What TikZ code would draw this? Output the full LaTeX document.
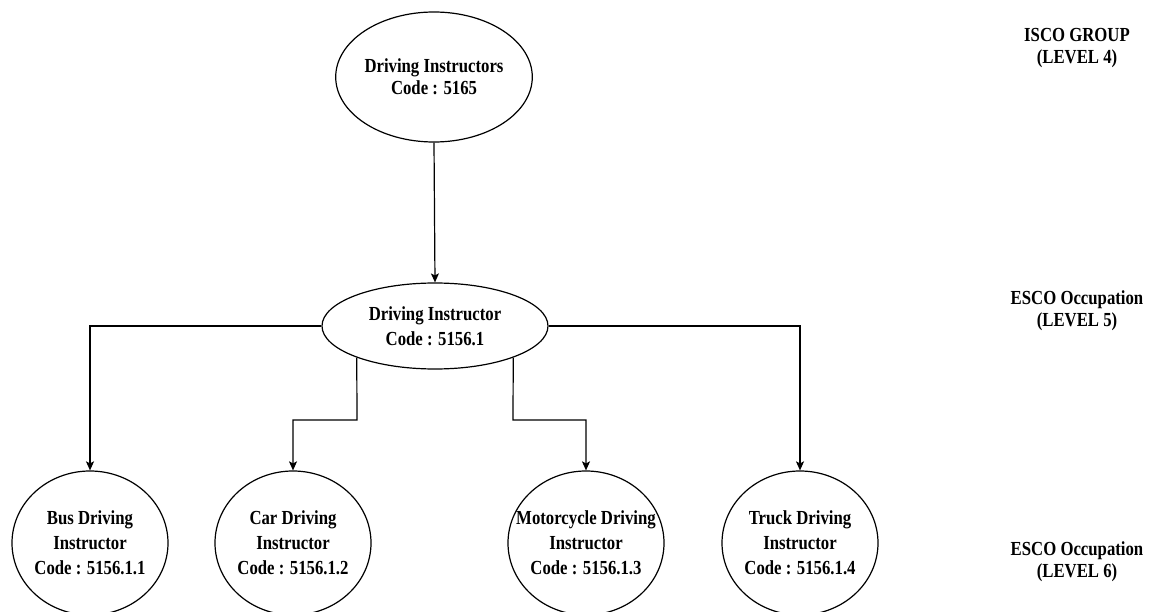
\documentclass[tikz,border=0pt]{standalone}
\usepackage{fontspec}
\setmainfont{Liberation Serif}[FakeStretch=0.84]
\usetikzlibrary{shapes.geometric,arrows.meta}
\begin{document}
\begin{tikzpicture}[x=1bp,y=-1bp,
  every node/.style={font=\bfseries\fontsize{20}{25}\selectfont, align=center},
  oval/.style={draw, ellipse, line width=1.2bp, inner sep=0pt},
  topoval/.style={oval, minimum width=168bp, minimum height=130bp, font=\bfseries\fontsize{20}{22}\selectfont},
  midoval/.style={oval, minimum width=226bp, minimum height=86bp},
  leafoval/.style={oval, inner sep=-30bp, minimum width=156bp, minimum height=144bp},
  conn/.style={line width=1.2bp, -{Stealth[length=9bp,width=8bp,inset=2bp]}},
  level/.style={font=\bfseries\fontsize{20}{22}\selectfont}]
\useasboundingbox (0,0) rectangle (1151,612);
\node[topoval] (top) at (434,77) {Driving Instructors\\Code : 5165};
\node[midoval] (mid) at (435,326) {Driving Instructor\\Code : 5156.1};
\node[leafoval] (bus) at (90,543) {Bus Driving\\Instructor\\Code : 5156.1.1};
\node[leafoval] (car) at (293,543) {Car Driving\\Instructor\\Code : 5156.1.2};
\node[leafoval] (moto) at (586,543) {Motorcycle Driving\\Instructor\\Code : 5156.1.3};
\node[leafoval] (truck) at (800,543) {Truck Driving\\Instructor\\Code : 5156.1.4};
\node[level] (l4) at (1077,48) {ISCO GROUP\\(LEVEL 4)};
\node[level] (l5) at (1077,311) {ESCO Occupation\\(LEVEL 5)};
\node[level] (l6) at (1077,562) {ESCO Occupation\\(LEVEL 6)};
\draw[conn] (top.south) -- (mid.north);
\draw[conn] (mid.west) -| (bus.north);
\draw[conn] (mid.east) -| (truck.north);
\coordinate (kc) at (357,420);
\coordinate (km) at (513,420);
\draw[conn] (mid.202) -- (kc) -| (car.north);
\draw[conn] (mid.-22) -- (km) -| (moto.north);
\end{tikzpicture}
\end{document}
